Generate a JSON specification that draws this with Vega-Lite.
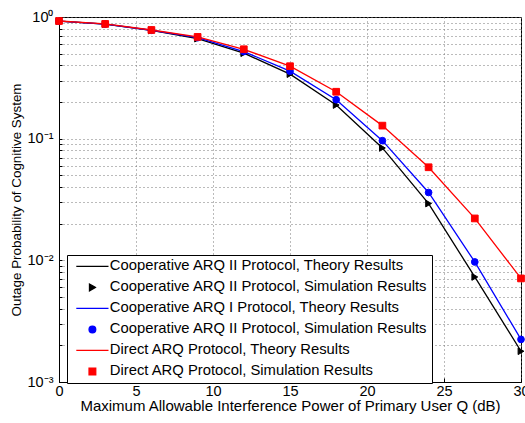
{
  "$schema": "https://vega.github.io/schema/vega-lite/v6.json",
  "width": 462,
  "height": 365,
  "autosize": "none",
  "padding": {"left": 59, "top": 17, "right": 4, "bottom": 41},
  "background": "white",
  "config": {
    "view": {"stroke": "black", "strokeWidth": 1},
    "font": "Liberation Sans",
    "axis": {
      "labelFont": "Liberation Sans",
      "titleFont": "Liberation Sans",
      "labelFontSize": 14.5,
      "titleFontSize": 15,
      "titleFontWeight": "normal",
      "labelColor": "black",
      "titleColor": "black",
      "domainColor": "black",
      "tickColor": "black",
      "gridColor": "#777777",
      "gridDash": [1, 3],
      "gridWidth": 1,
      "gridOpacity": 1
    },
    "legend": {
      "labelFont": "Liberation Sans",
      "labelFontSize": 14.8,
      "labelColor": "black",
      "labelLimit": 0
    }
  },
  "data": {
    "values": [
      {"x": 0, "y": 0.925, "s": "k1"}, {"x": 3, "y": 0.874, "s": "k1"}, {"x": 6, "y": 0.775, "s": "k1"}, {"x": 9, "y": 0.664, "s": "k1"}, {"x": 12, "y": 0.504, "s": "k1"}, {"x": 15, "y": 0.339, "s": "k1"}, {"x": 18, "y": 0.189, "s": "k1"}, {"x": 21, "y": 0.0839, "s": "k1"}, {"x": 24, "y": 0.0293, "s": "k1"}, {"x": 27, "y": 0.0073, "s": "k1"}, {"x": 30, "y": 0.00179, "s": "k1"},
      {"x": 0, "y": 0.925, "s": "k2"}, {"x": 3, "y": 0.874, "s": "k2"}, {"x": 6, "y": 0.775, "s": "k2"}, {"x": 9, "y": 0.664, "s": "k2"}, {"x": 12, "y": 0.504, "s": "k2"}, {"x": 15, "y": 0.339, "s": "k2"}, {"x": 18, "y": 0.189, "s": "k2"}, {"x": 21, "y": 0.0839, "s": "k2"}, {"x": 24, "y": 0.0293, "s": "k2"}, {"x": 27, "y": 0.0073, "s": "k2"}, {"x": 30, "y": 0.00179, "s": "k2"},
      {"x": 0, "y": 0.925, "s": "b1"}, {"x": 3, "y": 0.875, "s": "b1"}, {"x": 6, "y": 0.778, "s": "b1"}, {"x": 9, "y": 0.676, "s": "b1"}, {"x": 12, "y": 0.52, "s": "b1"}, {"x": 15, "y": 0.359, "s": "b1"}, {"x": 18, "y": 0.209, "s": "b1"}, {"x": 21, "y": 0.0963, "s": "b1"}, {"x": 24, "y": 0.0361, "s": "b1"}, {"x": 27, "y": 0.0097, "s": "b1"}, {"x": 30, "y": 0.00224, "s": "b1"},
      {"x": 0, "y": 0.925, "s": "b2"}, {"x": 3, "y": 0.875, "s": "b2"}, {"x": 6, "y": 0.778, "s": "b2"}, {"x": 9, "y": 0.676, "s": "b2"}, {"x": 12, "y": 0.52, "s": "b2"}, {"x": 15, "y": 0.359, "s": "b2"}, {"x": 18, "y": 0.209, "s": "b2"}, {"x": 21, "y": 0.0963, "s": "b2"}, {"x": 24, "y": 0.0361, "s": "b2"}, {"x": 27, "y": 0.0097, "s": "b2"}, {"x": 30, "y": 0.00224, "s": "b2"},
      {"x": 0, "y": 0.927, "s": "r1"}, {"x": 3, "y": 0.877, "s": "r1"}, {"x": 6, "y": 0.782, "s": "r1"}, {"x": 9, "y": 0.686, "s": "r1"}, {"x": 12, "y": 0.543, "s": "r1"}, {"x": 15, "y": 0.394, "s": "r1"}, {"x": 18, "y": 0.243, "s": "r1"}, {"x": 21, "y": 0.128, "s": "r1"}, {"x": 24, "y": 0.0582, "s": "r1"}, {"x": 27, "y": 0.0221, "s": "r1"}, {"x": 30, "y": 0.0071, "s": "r1"},
      {"x": 0, "y": 0.927, "s": "r2"}, {"x": 3, "y": 0.877, "s": "r2"}, {"x": 6, "y": 0.782, "s": "r2"}, {"x": 9, "y": 0.686, "s": "r2"}, {"x": 12, "y": 0.543, "s": "r2"}, {"x": 15, "y": 0.394, "s": "r2"}, {"x": 18, "y": 0.243, "s": "r2"}, {"x": 21, "y": 0.128, "s": "r2"}, {"x": 24, "y": 0.0582, "s": "r2"}, {"x": 27, "y": 0.0221, "s": "r2"}, {"x": 30, "y": 0.0071, "s": "r2"}
    ]
  },
  "layer": [
    {
      "transform": [{"filter": {"field": "s", "oneOf": ["k1", "b1", "r1"]}}],
      "mark": {"type": "line", "strokeWidth": 1.3},
      "encoding": {
        "x": {
          "field": "x", "type": "quantitative",
          "scale": {"domain": [0, 30], "nice": false, "zero": false},
          "axis": {
            "values": [0, 5, 10, 15, 20, 25, 30],
            "title": "Maximum Allowable Interference Power of Primary User Q  (dB)",
            "grid": true,
            "tickSize": -4,
            "labelPadding": 6,
            "titlePadding": 1,
            "labelFlush": false
          }
        },
        "y": {
          "field": "y", "type": "quantitative",
          "scale": {"type": "log", "domain": [0.001, 1], "nice": false},
          "axis": {
            "values": [0.001, 0.002, 0.003, 0.004, 0.005, 0.006, 0.007, 0.008, 0.009, 0.01, 0.02, 0.03, 0.04, 0.05, 0.06, 0.07, 0.08, 0.09, 0.1, 0.2, 0.3, 0.4, 0.5, 0.6, 0.7, 0.8, 0.9, 1],
            "labelExpr": "datum.value == 1 ? '10⁰' : datum.value == 0.1 ? '10⁻¹' : datum.value == 0.01 ? '10⁻²' : datum.value == 0.001 ? '10⁻³' : ''",
            "title": "Outage Probability of Cognitive System",
            "titleFontSize": 13.4,
            "grid": true,
            "tickSize": -3,
            "labelPadding": 9,
            "titlePadding": 4,
            "labelFlush": false
          }
        },
        "stroke": {
          "field": "s", "type": "nominal",
          "scale": {"domain": ["k1", "b1", "r1"], "range": ["black", "#0000ff", "#ff0000"]},
          "legend": null
        }
      }
    },
    {
      "transform": [{"filter": {"field": "s", "oneOf": ["k2", "b2", "r2"]}}],
      "mark": {"type": "point", "filled": false, "size": 45, "strokeWidth": 1, "opacity": 1},
      "encoding": {
        "x": {"field": "x", "type": "quantitative"},
        "y": {"field": "y", "type": "quantitative"},
        "color": {
          "field": "s", "type": "nominal",
          "scale": {"domain": ["k1", "k2", "b1", "b2", "r1", "r2"], "range": ["black", "black", "#0000ff", "#0000ff", "#ff0000", "#ff0000"]},
          "legend": {
            "title": null,
            "orient": "none",
            "legendX": 8,
            "legendY": 238,
            "strokeColor": "black",
            "fillColor": "white",
            "padding": 4,
            "symbolOffset": 14,
            "labelOffset": 10,
            "rowPadding": 5,
            "symbolSize": 45,
            "symbolStrokeWidth": 1.3,
            "labelExpr": "datum.value == 'k1' ? 'Cooperative ARQ II Protocol, Theory Results' : datum.value == 'k2' ? 'Cooperative ARQ II Protocol, Simulation Results' : datum.value == 'b1' ? 'Cooperative ARQ I Protocol, Theory Results' : datum.value == 'b2' ? 'Cooperative ARQ II Protocol, Simulation Results' : datum.value == 'r1' ? 'Direct ARQ Protocol, Theory Results' : 'Direct ARQ Protocol, Simulation Results'"
          }
        },
        "fill": {
          "field": "s", "type": "nominal",
          "scale": {"domain": ["k1", "k2", "b1", "b2", "r1", "r2"], "range": ["black", "black", "#0000ff", "#0000ff", "#ff0000", "#ff0000"]}
        },
        "shape": {
          "field": "s", "type": "nominal",
          "scale": {"domain": ["k1", "k2", "b1", "b2", "r1", "r2"], "range": ["M-4.8,0H4.8", "triangle-right", "M-4.8,0H4.8", "circle", "M-4.8,0H4.8", "square"]}
        }
      }
    }
  ]
}
